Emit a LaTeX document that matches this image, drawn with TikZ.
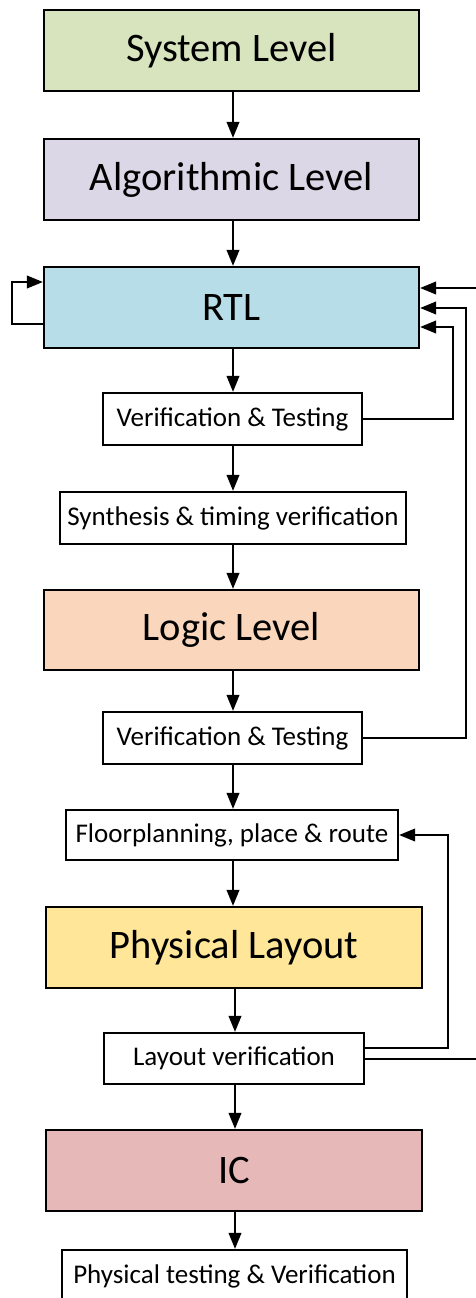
\documentclass[tikz,border=0pt]{standalone}
\usepackage{fontspec}
\setmainfont{Carlito}
\usetikzlibrary{arrows.meta}
\definecolor{cSys}{HTML}{D7E4BD}
\definecolor{cAlg}{HTML}{DCD7E6}
\definecolor{cRtl}{HTML}{B7DDE8}
\definecolor{cLog}{HTML}{FAD7BC}
\definecolor{cPhy}{HTML}{FFE699}
\definecolor{cIC}{HTML}{E6B8B7}
\tikzset{
  big/.style={draw, line width=2.2pt, inner sep=0pt, minimum width=375pt, minimum height=81pt, font=\fontsize{40.5}{46}\selectfont},
  small/.style={draw, line width=2.2pt, fill=white, inner sep=0pt, minimum height=52pt, font=\fontsize{27}{32}\selectfont},
  conn/.style={line width=2.2pt, -{Triangle[length=16pt,width=12.5pt]}},
  plain/.style={line width=2.2pt}
}
\begin{document}
\begin{tikzpicture}[x=1pt,y=-1pt]
\useasboundingbox (0,0) rectangle (475,1298);
\node[big, fill=cSys] (sys) at (231.5,50.5) {System Level};
\node[big, fill=cAlg] (alg) at (231.5,179.5) {Algorithmic Level};
\node[big, fill=cRtl] (rtl) at (231.5,307.5) {RTL};
\node[small, minimum width=259pt] (vt1) at (232.5,419) {Verification \& Testing};
\node[small, minimum width=346pt] (syn) at (233,518) {Synthesis \& timing verification};
\node[big, fill=cLog, minimum height=80pt] (log) at (231.5,630) {Logic Level};
\node[small, minimum width=259pt] (vt2) at (232.5,738) {Verification \& Testing};
\node[small, minimum width=332pt, minimum height=50pt] (flp) at (232,835) {Floorplanning, place \& route};
\node[big, fill=cPhy, minimum width=376pt] (phy) at (234,947.5) {Physical Layout};
\node[small, minimum width=260pt, minimum height=51pt] (lv) at (234,1058.5) {Layout verification};
\node[big, fill=cIC, minimum width=376pt] (ic) at (234,1170.5) {IC};
\node[small, minimum width=345pt] (ptv) at (234.5,1276) {Physical testing \& Verification};

\draw[conn] (233,91) coordinate (s1) -- (s1 |- alg.north);
\draw[conn] (233,220) coordinate (s2) -- (s2 |- rtl.north);
\draw[conn] (233,348) coordinate (s3) -- (s3 |- vt1.north);
\draw[conn] (233,445) coordinate (s4) -- (s4 |- syn.north);
\draw[conn] (233,544) coordinate (s5) -- (s5 |- log.north);
\draw[conn] (233,670) coordinate (s6) -- (s6 |- vt2.north);
\draw[conn] (233,764) coordinate (s7) -- (s7 |- flp.north);
\draw[conn] (233,860) coordinate (s8) -- (s8 |- phy.north);
\draw[conn] (235,988) coordinate (s9) -- (s9 |- lv.north);
\draw[conn] (235,1084) coordinate (s10) -- (s10 |- ic.north);
\draw[conn] (235,1211) coordinate (s11) -- (s11 |- ptv.north);

% RTL self loop
\draw[conn] ([yshift=-16.5pt]rtl.west) -- ++(-31,0) |- ([yshift=25.5pt]rtl.west);
% feedback loops
\draw[conn] (vt1.east) -| (453,327) -- ([yshift=-19.5pt]rtl.east);
\draw[conn] (vt2.east) -| (466,308) -- ([yshift=-0.5pt]rtl.east);
\draw[conn] ([yshift=-0.5pt]lv.east) -- (479,1059) -- (479,288) -- ([yshift=19.5pt]rtl.east);
\draw[conn] ([yshift=10.5pt]lv.east) -| (448,835) -- (flp.east);
\end{tikzpicture}
\end{document}
